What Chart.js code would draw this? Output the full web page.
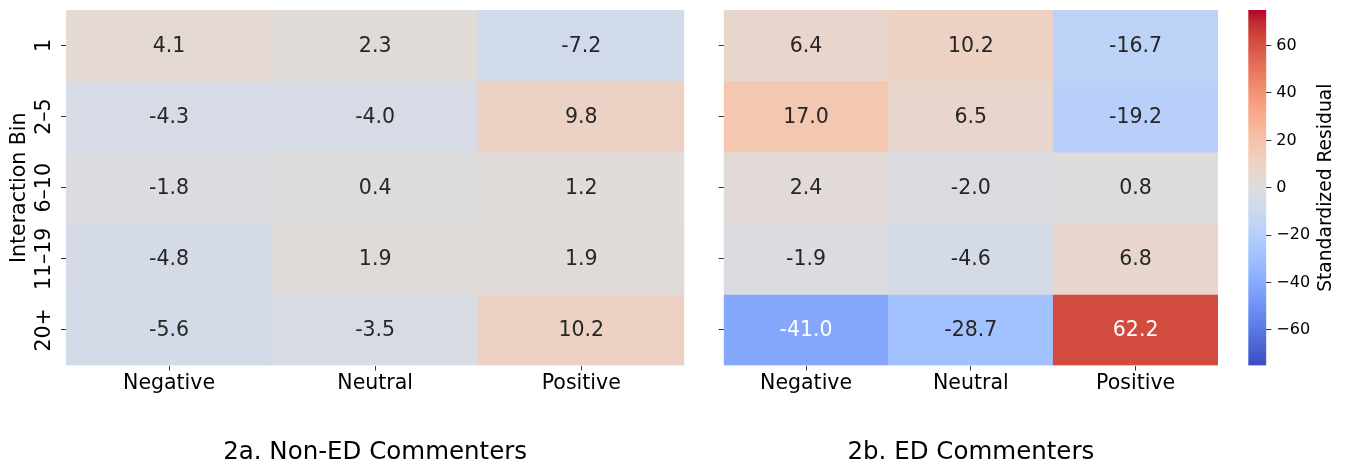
<!DOCTYPE html>
<html>
<head>
<meta charset="utf-8">
<script src="https://cdn.jsdelivr.net/npm/chart.js@4.4.0/dist/chart.umd.min.js"></script>
<style>
  html, body { margin: 0; padding: 0; background: #fff; }
  #wrap { position: relative; width: 1347px; height: 469px; overflow: hidden; }
  #wrap canvas { position: absolute; top: 0; }
</style>
</head>
<body>
<div id="wrap">
  <canvas id="nonEdChart" width="700" height="469" style="left:0px"></canvas>
  <canvas id="edChart" width="530" height="469" style="left:700px"></canvas>
  <canvas id="cbarChart" width="117" height="469" style="left:1230px"></canvas>
</div>
<script>
// columns / rows of both heatmaps
const sentiments = ['Negative', 'Neutral', 'Positive'];
const bins = ['1', '2–5', '6–10', '11–19', '20+'];

// standardized residuals, one row per interaction bin
const nonEdResiduals = [
  [4.1, 2.3, -7.2],
  [-4.3, -4.0, 9.8],
  [-1.8, 0.4, 1.2],
  [-4.8, 1.9, 1.9],
  [-5.6, -3.5, 10.2]
];
const edResiduals = [
  [6.4, 10.2, -16.7],
  [17.0, 6.5, -19.2],
  [2.4, -2.0, 0.8],
  [-1.9, -4.6, 6.8],
  [-41.0, -28.7, 62.2]
];

// colour bar
const cbarRange = [-75, 75];
const cbarTicks = [-60, -40, -20, 0, 20, 40, 60];

const FONT = '"DejaVu Sans", "Liberation Sans", sans-serif';
Chart.defaults.font.family = FONT;
Chart.defaults.color = '#000';

// matplotlib "coolwarm" (Moreland), 33 samples
const COOLWARM = [
  [59,76,192],[68,90,204],[77,104,215],[87,117,225],[98,130,234],[108,142,241],
  [119,154,247],[130,165,251],[141,176,254],[152,185,255],[163,194,255],[174,201,253],
  [184,208,249],[194,213,244],[204,217,238],[213,219,230],[221,221,221],[229,216,209],
  [236,211,197],[241,204,184],[245,196,172],[247,187,159],[247,177,147],[247,166,134],
  [244,154,123],[241,141,111],[236,127,99],[229,112,89],[222,96,77],[213,80,66],
  [203,62,56],[192,40,47],[180,4,38]
];

function coolwarmRgb(v) {
  let t = (v - cbarRange[0]) / (cbarRange[1] - cbarRange[0]);
  t = Math.max(0, Math.min(1, t)) * (COOLWARM.length - 1);
  const i = Math.min(Math.floor(t), COOLWARM.length - 2);
  const f = t - i;
  return COOLWARM[i].map((c, k) => c + (COOLWARM[i + 1][k] - c) * f);
}
function coolwarm(v) {
  const c = coolwarmRgb(v);
  return `rgb(${c[0].toFixed(0)},${c[1].toFixed(0)},${c[2].toFixed(0)})`;
}
// same rule seaborn uses to pick the annotation colour
function annotColor(v) {
  const lin = coolwarmRgb(v).map(c => {
    c = c / 255;
    return c <= 0.03928 ? c / 12.92 : Math.pow((c + 0.055) / 1.055, 2.4);
  });
  const lum = 0.2126 * lin[0] + 0.7152 * lin[1] + 0.0722 * lin[2];
  return lum > 0.408 ? '#262626' : '#ffffff';
}

function zeroPad(scale) {
  scale.paddingTop = 0; scale.paddingBottom = 0;
  scale.paddingLeft = 0; scale.paddingRight = 0;
}

const cellLabels = {
  id: 'cellLabels',
  afterDatasetsDraw(chart) {
    const ctx = chart.ctx;
    ctx.save();
    ctx.font = '20.5px ' + FONT;
    ctx.textAlign = 'center';
    ctx.textBaseline = 'middle';
    chart.data.datasets.forEach((ds, i) => {
      chart.getDatasetMeta(i).data.forEach((bar, j) => {
        const v = ds.values[j];
        const p = bar.getCenterPoint();
        ctx.fillStyle = annotColor(v);
        ctx.fillText(v.toFixed(1), p.x, p.y + 1);
      });
    });
    ctx.restore();
  }
};

function makeHeatmap(id, values, title, showYLabels, yWidth, padRight) {
  const datasets = bins.map((bin, i) => ({
    label: bin,
    data: sentiments.map(() => [i, i + 1]),
    values: values[i],
    backgroundColor: values[i].map(coolwarm),
    borderWidth: 0,
    grouped: false,
    categoryPercentage: 1,
    barPercentage: 1
  }));

  return new Chart(document.getElementById(id), {
    type: 'bar',
    data: { labels: sentiments, datasets },
    options: {
      responsive: false,
      animation: false,
      events: [],
      layout: { padding: { left: 0, right: padRight, top: 10, bottom: 0 } },
      plugins: { legend: { display: false }, tooltip: { enabled: false } },
      scales: {
        x: {
          type: 'category',
          grid: { offset: false, drawOnChartArea: false, tickLength: 5, color: '#333' },
          border: { display: false },
          ticks: { font: { size: 20.5 }, color: '#000', padding: 1 },
          title: {
            display: true, text: title, color: '#000',
            font: { size: 24.5 }, padding: { top: 0, bottom: 2 }
          },
          afterFit: s => { s.height = 469 - 365.5; zeroPad(s); }
        },
        y: {
          type: 'linear',
          min: 0, max: bins.length,
          reverse: true,
          afterBuildTicks: s => { s.ticks = bins.map((b, i) => ({ value: i + 0.5 })); },
          grid: { drawOnChartArea: false, tickLength: 5, color: '#333' },
          border: { display: false },
          ticks: {
            display: true,
            minRotation: 90,
            maxRotation: 90,
            crossAlign: 'center',
            padding: -14.4,
            font: { size: 20.5 },
            color: '#000',
            callback: (v, i) => showYLabels ? bins[i] : ''
          },
          title: {
            display: showYLabels, text: 'Interaction Bin', color: '#000',
            font: { size: 20.5 }, padding: { top: 7.5, bottom: 0 }
          },
          afterFit: s => { s.width = yWidth; zeroPad(s); }
        }
      }
    },
    plugins: [cellLabels]
  });
}

makeHeatmap('nonEdChart', nonEdResiduals, '2a. Non-ED Commenters', true, 66, 700 - 684.3);
makeHeatmap('edChart', edResiduals, '2b. ED Commenters', false, 23.7, 530 - 518);

// Colour bar
const cbarTitle = {
  id: 'cbarTitle',
  afterDraw(chart) {
    const s = chart.scales.y;
    const ctx = chart.ctx;
    ctx.save();
    ctx.translate(chart.width - 21, (s.top + s.bottom) / 2);
    ctx.rotate(-Math.PI / 2);
    ctx.font = '18.7px ' + FONT;
    ctx.fillStyle = '#000';
    ctx.textAlign = 'center';
    ctx.textBaseline = 'middle';
    ctx.fillText('Standardized Residual', 0, 0);
    ctx.restore();
  }
};

new Chart(document.getElementById('cbarChart'), {
  type: 'bar',
  data: {
    labels: [''],
    datasets: [{
      data: [cbarRange],
      borderWidth: 0,
      categoryPercentage: 1,
      barPercentage: 1,
      backgroundColor: ctx => {
        const chart = ctx.chart;
        const y = chart.scales.y;
        if (!chart.chartArea || !y) return coolwarm(0);
        const g = chart.ctx.createLinearGradient(0, y.getPixelForValue(cbarRange[0]), 0, y.getPixelForValue(cbarRange[1]));
        COOLWARM.forEach((c, i) => g.addColorStop(i / (COOLWARM.length - 1), `rgb(${c[0]},${c[1]},${c[2]})`));
        return g;
      }
    }]
  },
  options: {
    responsive: false,
    animation: false,
    events: [],
    layout: { padding: { left: 18.3, right: 0, top: 10, bottom: 469 - 365.5 } },
    plugins: { legend: { display: false }, tooltip: { enabled: false } },
    scales: {
      x: { display: false },
      y: {
        position: 'right',
        min: cbarRange[0], max: cbarRange[1],
        afterBuildTicks: s => { s.ticks = cbarTicks.map(v => ({ value: v })); },
        grid: { drawOnChartArea: false, tickLength: 5, color: '#333' },
        border: { display: false },
        ticks: {
          font: { size: 16 }, color: '#000', padding: 5,
          callback: v => v < 0 ? '\u2212' + Math.abs(v) : String(v)
        },
        afterFit: s => { s.width = 117 - 36.3; zeroPad(s); }
      }
    }
  },
  plugins: [cbarTitle]
});
</script>
</body>
</html>
